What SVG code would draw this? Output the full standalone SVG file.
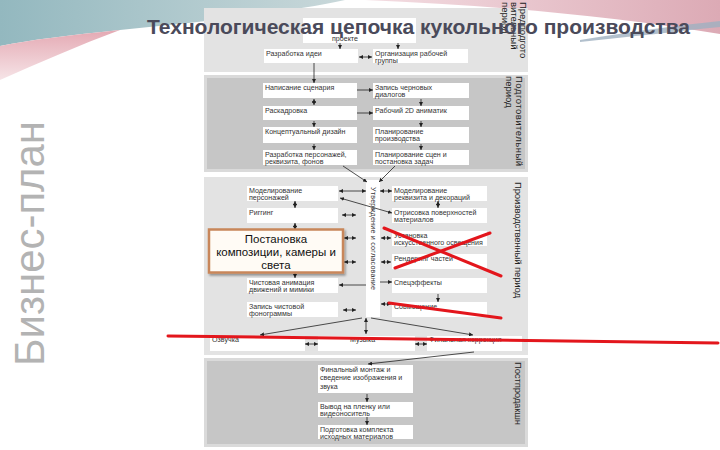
<svg xmlns="http://www.w3.org/2000/svg" width="720" height="450" viewBox="0 0 720 450">
<defs>
<linearGradient id="gT" x1="0" y1="0" x2="1" y2="0"><stop offset="0" stop-color="#93b8bf"/><stop offset="1" stop-color="#c9d8da"/></linearGradient>
<linearGradient id="gP" x1="0" y1="0" x2="1" y2="0"><stop offset="0" stop-color="#f3dde2"/><stop offset="1" stop-color="#dcaab5"/></linearGradient>
<linearGradient id="gL" x1="0" y1="0" x2="0" y2="1"><stop offset="0" stop-color="#e4a9b3"/><stop offset="1" stop-color="#f6e4e7"/></linearGradient>
<marker id="a" viewBox="0 0 6 6" refX="6" refY="3" markerUnits="userSpaceOnUse" markerWidth="4" markerHeight="4" orient="auto-start-reverse"><path d="M0,0 L6,3 L0,6 z" fill="#222"/></marker>
<filter id="sh" x="-10%" y="-10%" width="130%" height="140%"><feDropShadow dx="1.5" dy="2" stdDeviation="1.2" flood-color="#000" flood-opacity="0.35"/></filter>
<style>
.t{font-family:"Liberation Sans",Arial,sans-serif;font-size:7.1px;fill:#333}
.lbl{font-family:"Liberation Sans",Arial,sans-serif;font-size:9.5px;fill:#222}
.box{fill:#fff}
.pl{fill:#e3e3e3}
.pd{fill:#c6c6c6;stroke:#dadada;stroke-width:3}
.c{stroke:#222;stroke-width:0.8;fill:none}
.red{stroke:#e3161c;stroke-width:3;stroke-linecap:round;fill:none}
.ov{font-family:"Liberation Sans",Arial,sans-serif;font-size:11.5px;fill:#111;text-anchor:middle}
</style>
</defs>
<rect width="720" height="450" fill="#fff"/>
<g id="bg">
<path d="M0,0 H345 C290,12 200,22 120,30 C70,35 30,40 0,46 Z" fill="url(#gT)"/>
<path d="M0,46 C30,40 70,35 120,30 C80,45 40,62 0,80 Z" fill="url(#gL)"/>
<path d="M365,0 H720 V34 C610,16 490,5 365,0 Z" fill="url(#gP)"/>
<path d="M580,40 C630,32 680,25 720,21 L720,27 C680,31 630,37 580,42 Z" fill="#9fb0c0" opacity="0.8"/>
</g>
<text id="side" transform="translate(44,366) rotate(-90)" font-family="Liberation Sans,Arial,sans-serif" font-size="42" fill="#b3b3b3" textLength="245" lengthAdjust="spacingAndGlyphs">Бизнес-план</text>
<g id="panels">
<rect class="pl" x="204" y="8" width="324" height="64"/>
<rect class="pd" x="205.5" y="76.5" width="321" height="94"/>
<rect class="pl" x="204" y="177" width="324" height="178"/>
<rect class="pd" x="205.5" y="359.5" width="321" height="86"/>
<rect x="366" y="180" width="14" height="137" fill="#fff"/>
</g>
<g id="labels">
<text class="lbl" transform="translate(520,2) rotate(90)" font-size="9">Предподгото</text>
<text class="lbl" transform="translate(511,2) rotate(90)" font-size="9">вительный</text>
<text class="lbl" transform="translate(502,2) rotate(90)" font-size="9">период</text>
<text class="lbl" transform="translate(516,76) rotate(90)" textLength="90">Подготовительный</text>
<text class="lbl" transform="translate(506,76) rotate(90)">период</text>
<text class="lbl" transform="translate(515,182) rotate(90)" textLength="116">Производственный период</text>
<text class="lbl" transform="translate(515,362) rotate(90)" textLength="63">Постпродакшн</text>
<text class="t" transform="translate(371,187) rotate(90)" textLength="103">Утверждение и согласование</text>
</g>
<g id="n0"><rect class="box" x="303" y="18" width="113" height="25"/><text class="t" x="332" y="41">проекте</text></g>
<g id="n1"><rect class="box" x="264" y="49" width="94" height="14"/><text class="t" x="266" y="55.5">Разработка идеи</text></g>
<g id="n2"><rect class="box" x="373" y="49" width="95" height="14"/><text class="t" x="375" y="55.5">Организация рабочей</text><text class="t" x="375" y="63">группы</text></g>
<g id="n3"><rect class="box" x="263" y="83" width="94" height="15"/><text class="t" x="265" y="89.5">Написание сценария</text></g>
<g id="n4"><rect class="box" x="373" y="83" width="96" height="15"/><text class="t" x="375" y="89.5">Запись черновых</text><text class="t" x="375" y="97">диалогов</text></g>
<g id="n5"><rect class="box" x="263" y="106" width="94" height="14"/><text class="t" x="265" y="112.5">Раскадровка</text></g>
<g id="n6"><rect class="box" x="373" y="106" width="96" height="14"/><text class="t" x="375" y="112.5">Рабочий 2D аниматик</text></g>
<g id="n7"><rect class="box" x="263" y="127" width="94" height="16"/><text class="t" x="265" y="133.5">Концептуальный дизайн</text></g>
<g id="n8"><rect class="box" x="373" y="127" width="96" height="16"/><text class="t" x="375" y="133.5">Планирование</text><text class="t" x="375" y="141">производства</text></g>
<g id="n9"><rect class="box" x="263" y="150" width="94" height="15"/><text class="t" x="265" y="156.5">Разработка персонажей,</text><text class="t" x="265" y="164">реквизита, фонов</text></g>
<g id="n10"><rect class="box" x="373" y="150" width="96" height="15"/><text class="t" x="375" y="156.5">Планирование сцен и</text><text class="t" x="375" y="164">постановка задач</text></g>
<g id="n11"><rect class="box" x="247" y="186" width="91" height="15"/><text class="t" x="249" y="192.5">Моделирование</text><text class="t" x="249" y="200">персонажей</text></g>
<g id="n12"><rect class="box" x="247" y="208" width="91" height="15"/><text class="t" x="249" y="214.5">Риггинг</text></g>
<g id="n13"><rect class="box" x="247" y="278" width="91" height="15"/><text class="t" x="249" y="284.5">Чистовая анимация</text><text class="t" x="249" y="292">движений и мимики</text></g>
<g id="n14"><rect class="box" x="247" y="302" width="91" height="15"/><text class="t" x="249" y="308.5">Запись чистовой</text><text class="t" x="249" y="316">фонограммы</text></g>
<g id="n15"><rect class="box" x="392" y="186" width="95" height="15"/><text class="t" x="394" y="192.5">Моделирование</text><text class="t" x="394" y="200">реквизита и декораций</text></g>
<g id="n16"><rect class="box" x="392" y="208" width="95" height="15"/><text class="t" x="394" y="214.5">Отрисовка поверхностей</text><text class="t" x="394" y="222">материалов</text></g>
<g id="n17"><rect class="box" x="392" y="231" width="95" height="15"/><text class="t" x="394" y="237.5">Установка</text><text class="t" x="394" y="245">искусственного освещения</text></g>
<g id="n18"><rect class="box" x="392" y="254" width="95" height="15"/><text class="t" x="394" y="260.5">Рендеринг частей</text></g>
<g id="n19"><rect class="box" x="392" y="278" width="95" height="15"/><text class="t" x="394" y="284.5">Спецэффекты</text></g>
<g id="n20"><rect class="box" x="392" y="302" width="95" height="15"/><text class="t" x="394" y="308.5">Совмещение</text></g>
<g id="n21"><rect class="box" x="210" y="336" width="95" height="15"/><text class="t" x="212" y="342">Озвучка</text></g>
<g id="n22"><rect class="box" x="318" y="336" width="97" height="15"/><text class="t" x="350" y="342">Музыка</text></g>
<g id="n23"><rect class="box" x="427" y="336" width="95" height="15"/><text class="t" x="429" y="342">Финальная коррекция</text></g>
<g id="n24"><rect class="box" x="318" y="365" width="95" height="28"/><text class="t" x="320" y="371.5">Финальный монтаж и</text><text class="t" x="320" y="380">сведение изображения и</text><text class="t" x="320" y="388.5">звука</text></g>
<g id="n25"><rect class="box" x="318" y="402" width="95" height="15"/><text class="t" x="320" y="408.5">Вывод на пленку или</text><text class="t" x="320" y="416">видеоноситель</text></g>
<g id="n26"><rect class="box" x="318" y="425" width="95" height="14"/><text class="t" x="320" y="431.5">Подготовка комплекта</text><text class="t" x="320" y="439">исходных материалов</text></g>
<g id="connectors" class="c">
<line x1="340" y1="43" x2="340" y2="49" marker-end="url(#a)"/>
<line x1="398" y1="43" x2="398" y2="49" marker-end="url(#a)"/>
<line x1="359" y1="57" x2="372" y2="57" marker-start="url(#a)" marker-end="url(#a)"/>
<line x1="314" y1="63" x2="314" y2="83" marker-end="url(#a)"/>
<line x1="357" y1="90" x2="373" y2="90" marker-end="url(#a)"/>
<line x1="357" y1="113" x2="373" y2="113" marker-end="url(#a)"/>
<line x1="314" y1="99" x2="314" y2="105" marker-start="url(#a)" marker-end="url(#a)"/>
<line x1="314" y1="121" x2="314" y2="127" marker-end="url(#a)"/>
<line x1="314" y1="144" x2="314" y2="150" marker-end="url(#a)"/>
<line x1="421" y1="99" x2="421" y2="106" marker-end="url(#a)"/>
<line x1="421" y1="121" x2="421" y2="127" marker-end="url(#a)"/>
<line x1="421" y1="144" x2="421" y2="150" marker-end="url(#a)"/>
<line x1="343" y1="166" x2="367" y2="182" marker-end="url(#a)"/>
<line x1="395" y1="166" x2="379" y2="182" marker-end="url(#a)"/>
<line x1="339" y1="191" x2="366" y2="191" marker-start="url(#a)" marker-end="url(#a)"/>
<line x1="380" y1="191" x2="392" y2="191" marker-start="url(#a)" marker-end="url(#a)"/>
<line x1="340" y1="198" x2="392" y2="213" marker-start="url(#a)" marker-end="url(#a)"/>
<line x1="342" y1="215" x2="356" y2="215" marker-start="url(#a)" marker-end="url(#a)"/>
<line x1="295" y1="201" x2="295" y2="208" marker-start="url(#a)" marker-end="url(#a)"/>
<line x1="295" y1="223" x2="295" y2="230" marker-start="url(#a)" marker-end="url(#a)"/>
<line x1="438" y1="201" x2="438" y2="208" marker-start="url(#a)" marker-end="url(#a)"/>
<line x1="344" y1="238" x2="356" y2="238" marker-start="url(#a)" marker-end="url(#a)"/>
<line x1="344" y1="262" x2="356" y2="262" marker-start="url(#a)" marker-end="url(#a)"/>
<line x1="381" y1="238" x2="391" y2="238" marker-start="url(#a)" marker-end="url(#a)"/>
<line x1="381" y1="262" x2="391" y2="262" marker-start="url(#a)" marker-end="url(#a)"/>
<line x1="295" y1="272" x2="295" y2="278" marker-end="url(#a)"/>
<line x1="366" y1="285" x2="339" y2="285" marker-end="url(#a)"/>
<line x1="380" y1="282" x2="392" y2="282" marker-end="url(#a)"/>
<line x1="438" y1="294" x2="438" y2="302" marker-end="url(#a)"/>
<line x1="343" y1="310" x2="356" y2="310" marker-start="url(#a)" marker-end="url(#a)"/>
<line x1="381" y1="304" x2="391" y2="304" marker-start="url(#a)" marker-end="url(#a)"/>
<line x1="366" y1="318" x2="366" y2="334" marker-start="url(#a)" marker-end="url(#a)"/>
<line x1="362" y1="318" x2="260" y2="335" marker-end="url(#a)"/>
<line x1="371" y1="318" x2="473" y2="335" marker-end="url(#a)"/>
<line x1="305" y1="344" x2="318" y2="344" marker-start="url(#a)" marker-end="url(#a)"/>
<line x1="415" y1="344" x2="427" y2="344" marker-start="url(#a)" marker-end="url(#a)"/>
<line x1="474" y1="352" x2="368" y2="364" marker-end="url(#a)"/>
<line x1="367" y1="394" x2="367" y2="402" marker-end="url(#a)"/>
<line x1="367" y1="417" x2="367" y2="425" marker-end="url(#a)"/>
</g>
<g id="overlay"><rect x="209" y="229.5" width="134" height="43" fill="#fffbf5" stroke="#c8865a" stroke-width="2.5" filter="url(#sh)"/>
<text class="ov" x="276" y="243">Постановка</text>
<text class="ov" x="276" y="256">композиции, камеры и</text>
<text class="ov" x="276" y="269">света</text></g>
<g id="redmarks">
<line class="red" x1="384" y1="228" x2="501" y2="276"/>
<line class="red" x1="395" y1="268" x2="490" y2="233"/>
<line class="red" x1="389" y1="303" x2="501" y2="318"/>
<line class="red" x1="168" y1="336" x2="718" y2="343"/>
</g>
<text id="title" x="147" y="34" font-family="Liberation Sans,Arial,sans-serif" font-size="21" font-weight="bold" fill="#4a4a5a" textLength="543" lengthAdjust="spacingAndGlyphs">Технологическая цепочка кукольного производства</text>
</svg>
